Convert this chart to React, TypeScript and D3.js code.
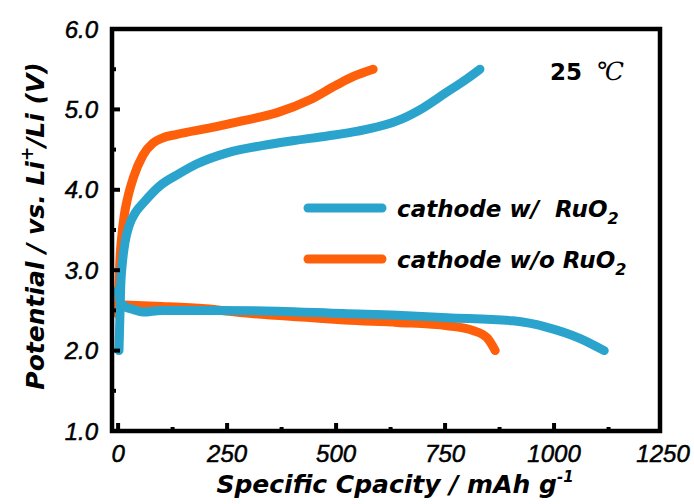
import React, { useEffect, useRef } from 'react';
import * as d3 from 'd3';

// charge / discharge profiles (capacity mAh/g, potential V)
const withCapCharge = [2, 4, 6, 10, 16, 25, 40, 60, 96, 140, 180, 250, 330, 400, 480, 550, 600, 650, 700, 750, 800, 830];
const withVCharge = [2.0, 2.4, 2.8, 3.1, 3.35, 3.55, 3.72, 3.85, 4.05, 4.2, 4.32, 4.46, 4.55, 4.61, 4.67, 4.73, 4.79, 4.88, 5.02, 5.2, 5.38, 5.5];
const withCapDis = [0, 5, 15, 35, 57, 100, 211, 365, 516, 640, 755, 906, 984, 1060, 1115];
const withVDis = [2.75, 2.6, 2.55, 2.51, 2.48, 2.5, 2.5, 2.49, 2.46, 2.44, 2.41, 2.37, 2.29, 2.15, 2.0];

const woCapCharge = [0, 2, 4, 8, 14, 22, 35, 57, 80, 100, 135, 211, 287, 365, 440, 500, 540, 585];
const woVCharge = [2.45, 2.8, 3.1, 3.4, 3.68, 3.9, 4.15, 4.43, 4.58, 4.64, 4.69, 4.77, 4.86, 4.96, 5.12, 5.3, 5.41, 5.5];
const woCapDis = [0, 100, 200, 287, 440, 520, 640, 755, 814, 846, 865];
const woVDis = [2.57, 2.55, 2.52, 2.47, 2.41, 2.38, 2.35, 2.31, 2.25, 2.16, 2.0];

const xTicks = [0, 250, 500, 750, 1000, 1250];
const xMinor = [125, 375, 625, 875, 1125];
const yTicks = [1.0, 2.0, 3.0, 4.0, 5.0, 6.0];
const yMinor = [1.5, 2.5, 3.5, 4.5, 5.5];

const BLUE = '#2aa4cc';
const ORANGE = '#fe5f0a';

const zip = (xs: number[], ys: number[]) => xs.map((x, i) => [x, ys[i]] as [number, number]);

const App = () => {
    const svgRef = useRef<SVGSVGElement>(null);
    const width = 694;
    const height = 504;
    const left = 112, right = 660, top = 29, bottom = 431;

    useEffect(() => {
        const svg = d3.select(svgRef.current);
        svg.selectAll('*').remove();

        const xScale = d3.scaleLinear().domain([-14, 1243]).range([left, right]);
        const yScale = d3.scaleLinear().domain([1, 6]).range([bottom, top]);

        const line = d3.line<[number, number]>()
            .curve(d3.curveMonotoneX)
            .x(d => xScale(d[0]))
            .y(d => yScale(d[1]));

        const series = [
            { pts: zip(woCapCharge, woVCharge), color: ORANGE },
            { pts: zip(woCapDis, woVDis), color: ORANGE },
            { pts: zip(withCapCharge, withVCharge), color: BLUE },
            { pts: zip(withCapDis, withVDis), color: BLUE },
        ];
        series.forEach(s => {
            svg.append('path')
                .datum(s.pts)
                .attr('fill', 'none')
                .attr('stroke', s.color)
                .attr('stroke-width', 9)
                .attr('stroke-linecap', 'round')
                .attr('stroke-linejoin', 'round')
                .attr('d', line);
        });

        // ticks (inward)
        xTicks.filter(t => t < 1250).forEach(t => {
            svg.append('line').attr('x1', xScale(t)).attr('x2', xScale(t))
                .attr('y1', bottom).attr('y2', bottom - 8)
                .attr('stroke', '#000').attr('stroke-width', 4);
        });
        xMinor.forEach(t => {
            svg.append('line').attr('x1', xScale(t)).attr('x2', xScale(t))
                .attr('y1', bottom).attr('y2', bottom - 4)
                .attr('stroke', '#000').attr('stroke-width', 4);
        });
        yTicks.forEach(t => {
            svg.append('line').attr('x1', left).attr('x2', left + 8)
                .attr('y1', yScale(t)).attr('y2', yScale(t))
                .attr('stroke', '#000').attr('stroke-width', 4);
        });
        yMinor.forEach(t => {
            svg.append('line').attr('x1', left).attr('x2', left + 4)
                .attr('y1', yScale(t)).attr('y2', yScale(t))
                .attr('stroke', '#000').attr('stroke-width', 4);
        });

        // frame
        svg.append('rect')
            .attr('x', left).attr('y', top)
            .attr('width', right - left).attr('height', bottom - top)
            .attr('fill', 'none').attr('stroke', '#000').attr('stroke-width', 4.5);

        // tick labels
        const tickFont = '"Liberation Sans", Arial, sans-serif';
        xTicks.forEach(t => {
            svg.append('text')
                .attr('x', xScale(t)).attr('y', 462)
                .attr('text-anchor', 'middle')
                .attr('font-family', tickFont).attr('font-style', 'italic')
                .attr('font-size', 24)
                .attr('stroke', '#000').attr('stroke-width', 0.5)
                .text(String(t));
        });
        yTicks.forEach(t => {
            svg.append('text')
                .attr('x', 98).attr('y', yScale(t) + 8.5)
                .attr('text-anchor', 'end')
                .attr('font-family', tickFont).attr('font-style', 'italic')
                .attr('font-size', 24)
                .attr('stroke', '#000').attr('stroke-width', 0.5)
                .text(t.toFixed(1));
        });

        const boldFont = '"DejaVu Sans", sans-serif';

        // x title
        const xt = svg.append('text')
            .attr('x', 395).attr('y', 493)
            .attr('text-anchor', 'middle')
            .attr('font-family', boldFont).attr('font-weight', 'bold').attr('font-style', 'italic')
            .attr('font-size', 25);
        xt.append('tspan').text('Specific Cpacity / mAh g');
        xt.append('tspan').attr('font-size', 15).attr('dy', -11).text('-1');

        // y title
        const yt = svg.append('text')
            .attr('transform', 'translate(44, 226) rotate(-90)')
            .attr('text-anchor', 'middle')
            .attr('font-family', boldFont).attr('font-weight', 'bold').attr('font-style', 'italic')
            .attr('font-size', 25);
        yt.append('tspan').text('Potential / vs. Li');
        yt.append('tspan').attr('font-size', 17).attr('dy', -11).text('+');
        yt.append('tspan').attr('dy', 11).text('/Li (V)');

        // legend
        const legend = [
            { label: 'cathode w/\u00a0\u00a0RuO', color: BLUE, y: 208 },
            { label: 'cathode w/o RuO', color: ORANGE, y: 259 },
        ];
        legend.forEach(l => {
            svg.append('line')
                .attr('x1', 308).attr('x2', 382)
                .attr('y1', l.y).attr('y2', l.y)
                .attr('stroke', l.color).attr('stroke-width', 9)
                .attr('stroke-linecap', 'round');
            const t = svg.append('text')
                .attr('x', 397).attr('y', l.y + 9)
                .attr('font-family', boldFont).attr('font-weight', 'bold').attr('font-style', 'italic')
                .attr('font-size', 23);
            t.append('tspan').text(l.label);
            t.append('tspan').attr('font-size', 16).attr('dy', 7).text('2');
        });

        // temperature
        const temp = svg.append('text').attr('x', 550).attr('y', 80);
        temp.append('tspan')
            .attr('font-family', boldFont).attr('font-weight', 'bold')
            .attr('font-size', 23).text('25 ');
        temp.append('tspan')
            .attr('font-family', '"DejaVu Serif", serif').attr('font-style', 'italic')
            .attr('font-size', 25).attr('dx', 6).text('\u2103');
    }, []);

    return (
        <svg ref={svgRef} width={width} height={height}
            style={{ position: 'absolute', left: 0, top: 0, background: '#fff' }} />
    );
};

export default App;
